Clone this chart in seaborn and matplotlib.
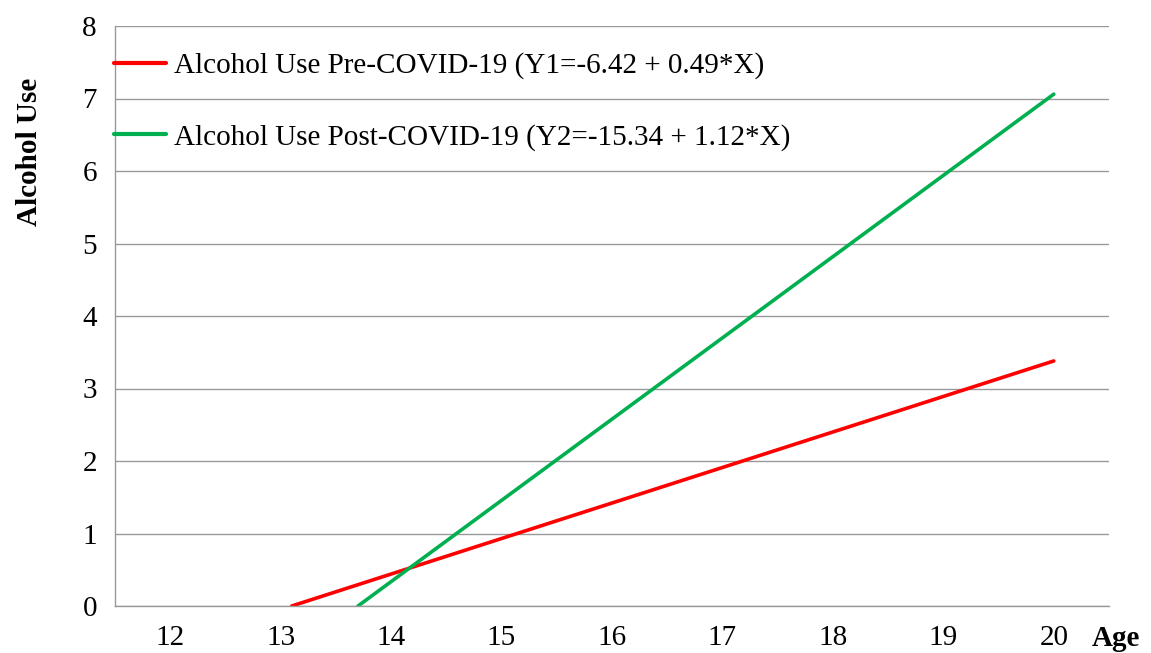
import numpy as np
import pandas as pd
import matplotlib
matplotlib.use("Agg")
import matplotlib.pyplot as plt
import seaborn as sns

# Data
age_pre = [13.1, 20.0]
use_pre = [0.0, 3.38]
age_post = [13.7, 20.0]
use_post = [0.0, 7.06]
label_pre = "Alcohol Use Pre-COVID-19 (Y1=-6.42 + 0.49*X)"
label_post = "Alcohol Use Post-COVID-19 (Y2=-15.34 + 1.12*X)"
x_labels = [12, 13, 14, 15, 16, 17, 18, 19, 20]
y_ticks = [0, 1, 2, 3, 4, 5, 6, 7, 8]

df = pd.DataFrame({
    "Age": age_pre + age_post,
    "Use": use_pre + use_post,
    "Series": [label_pre] * len(age_pre) + [label_post] * len(age_post),
})

sns.set_theme(style="white")
plt.rcParams["font.family"] = ["Liberation Serif", "DejaVu Serif"]
plt.rcParams["text.color"] = "black"

FS = 21
fig = plt.figure(figsize=(11.51, 6.53), dpi=100)
ax = fig.add_axes([115 / 1151, 47 / 653, (1109 - 115) / 1151, (606 - 26) / 653])

sns.lineplot(data=df, x="Age", y="Use", hue="Series",
             palette={label_pre: "#FF0000", label_post: "#00B050"},
             linewidth=2.6, ax=ax, legend=True)

ax.set_xlim(x_labels[0] - 0.5, x_labels[-1] + 0.5)
ax.set_ylim(y_ticks[0], y_ticks[-1])
ax.set_yticks(y_ticks)
ax.set_yticklabels([str(v) for v in y_ticks], fontsize=FS)
ax.set_xticks(x_labels)
ax.set_xticklabels([str(v) for v in x_labels], fontsize=FS)
ax.set_xticks(np.arange(x_labels[0] - 0.5, x_labels[-1] + 1.0, 1.0), minor=True)
ax.tick_params(axis="x", which="major", length=0, pad=14, labelcolor="black")
ax.tick_params(axis="x", which="minor", length=8, color="#999999", width=1, direction="out")
ax.tick_params(axis="y", which="major", length=8, color="#999999", width=1,
               direction="out", pad=5, labelcolor="black")
ax.yaxis.grid(True, color="#999999", linewidth=1)
ax.xaxis.grid(False)
for s in ["top", "right"]:
    ax.spines[s].set_visible(False)
for s in ["left", "bottom"]:
    ax.spines[s].set_color("#999999")
    ax.spines[s].set_linewidth(1)
ax.set_xlabel("")
ax.set_ylabel("")

leg = ax.legend(loc="upper left", bbox_to_anchor=(-0.013, 0.975), frameon=False,
                fontsize=FS, handlelength=1.8, handletextpad=0.25, labelspacing=1.53,
                borderaxespad=0)
for line in leg.get_lines():
    line.set_linewidth(3)
for t in leg.get_texts():
    t.set_color("black")

fig.text(30 / 1151, 1 - 152 / 653, "Alcohol Use", rotation=90, fontsize=FS,
         fontweight="bold", ha="center", va="center", color="black")
fig.text(1116 / 1151, 1 - 638 / 653, "Age", fontsize=FS, fontweight="bold",
         ha="center", va="center", color="black")

fig.savefig("out.png", dpi=100)
